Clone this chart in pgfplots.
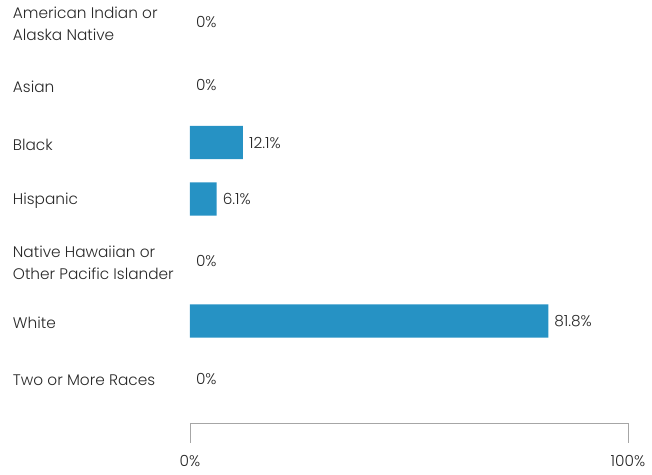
\documentclass[border=0pt]{standalone}
\usepackage{pgfplots}
\pgfplotsset{compat=1.18}
\usepackage{fontspec}
\setmainfont{Poppins}[UprightFont={* Light}]
\definecolor{barblue}{RGB}{38,146,196}
\definecolor{txt}{RGB}{40,40,40}
\begin{document}
\begin{tikzpicture}[x=1pt,y=1pt]
\begin{axis}[
  scale only axis,
  width=328.5pt, height=317.25pt,
  xmin=0, xmax=100,
  ymin=-0.370, ymax=6.748,
  y dir=reverse,
  clip=false,
  xbar, bar width=25pt, bar shift=0pt,
  axis x line*=bottom,
  axis y line=none,
  x axis line style={draw=gray!70, line width=0.5pt, -},
  xtick={0,100}, xticklabels={0\%,100\%},
  tick align=outside,
  major tick length=15pt,
  xtick style={draw=gray!70, line width=0.5pt},
  xticklabel style={font=\fontsize{11.5}{13}\selectfont, text=txt, yshift=-5.5pt},
  ytick=\empty,
  /pgf/number format/assume math mode=true,
  nodes near coords={\pgfmathprintnumber\pgfplotspointmeta\%},
  nodes near coords style={anchor=west, xshift=1pt, font=\fontsize{11.5}{13}\selectfont, text=txt},
]
% non-zero bars
\addplot[fill=barblue, draw=none] coordinates {
  (12.1,2.028) (6.1,2.979) (81.8,5.032)
};
% zero values (label only)
\addplot[fill=none, draw=none] coordinates {
  (0,0) (0,1.060) (0,4.022) (0,6.0)
};
\foreach \i/\lab in {0/{American Indian or\\Alaska Native},1.060/Asian,2.028/Black,2.979/Hispanic,4.022/{Native Hawaiian or\\Other Pacific Islander},5.032/White,6.0/Two or More Races} {
  \edef\temp{\noexpand\node[anchor=west, align=left, yshift=-1.5pt, font=\noexpand\fontsize{11.5}{16.5}\noexpand\selectfont, text=txt] at (axis cs:-41.5,\i) {\unexpanded\expandafter{\lab}};}
  \temp
}
\path (axis cs:-43.38,-0.370) rectangle (axis cs:105.48,7.607);
\end{axis}
\end{tikzpicture}
\end{document}
